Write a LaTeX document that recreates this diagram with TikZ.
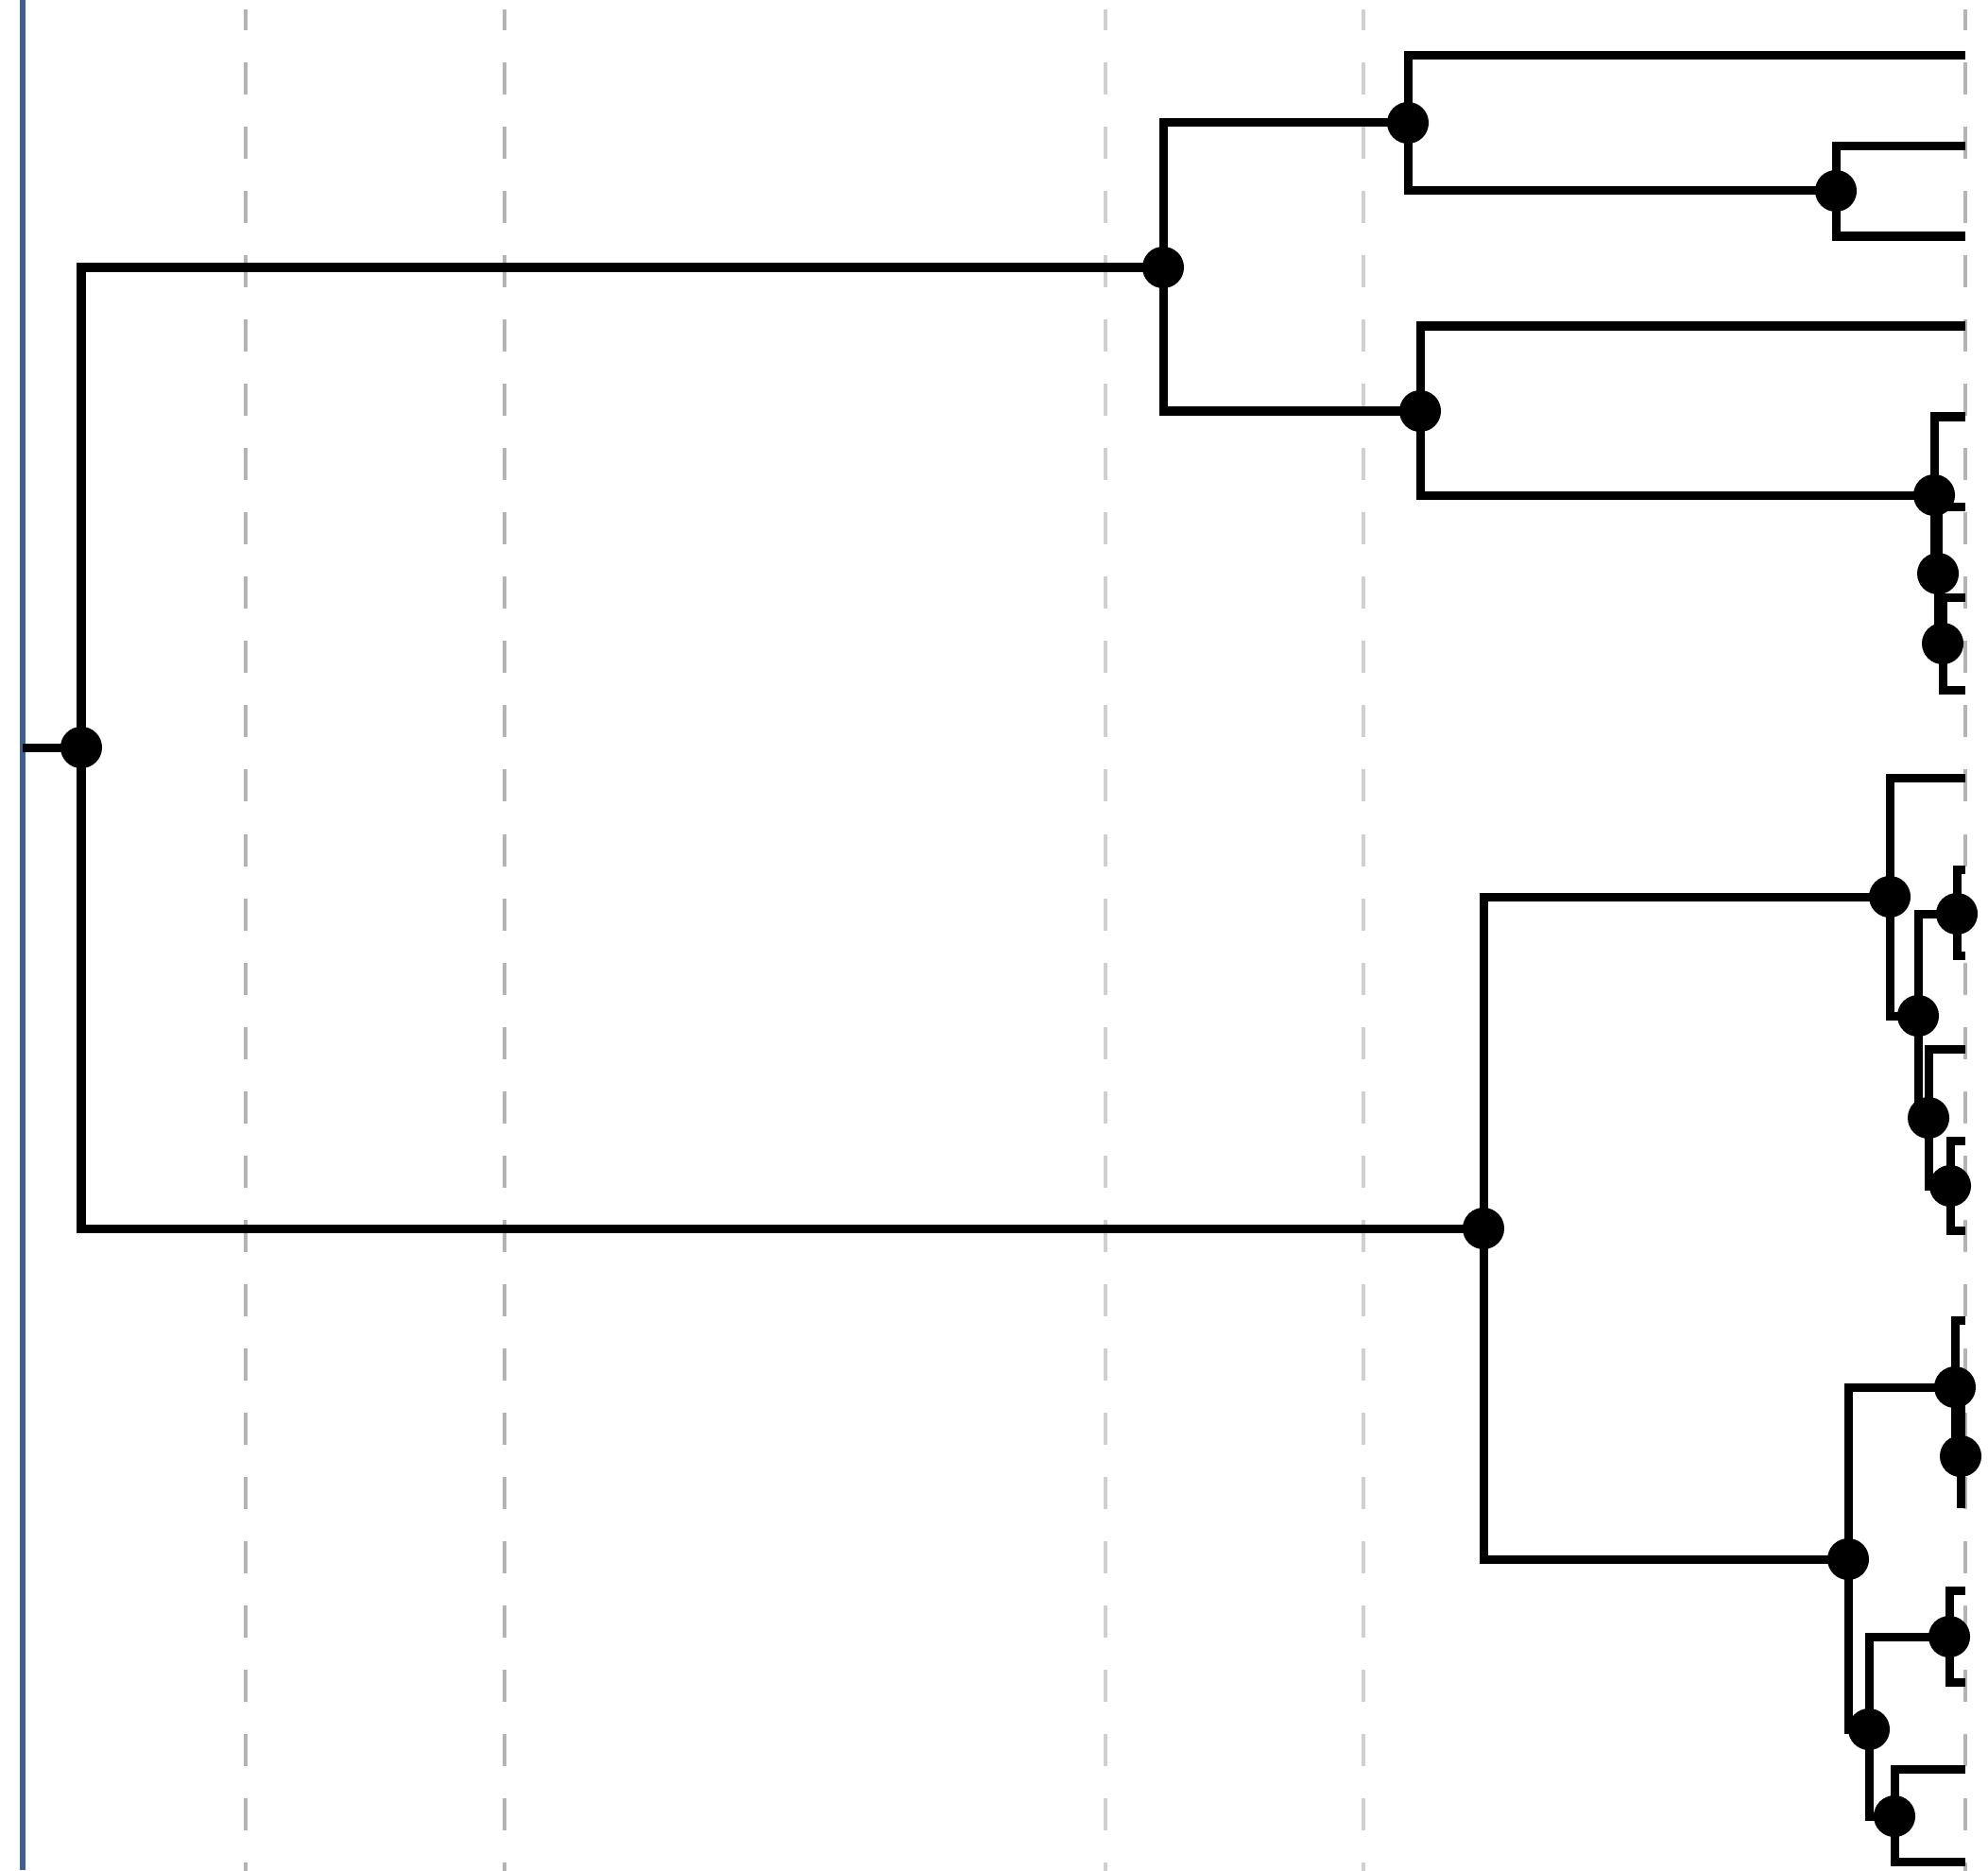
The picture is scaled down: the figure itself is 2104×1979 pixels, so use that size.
\documentclass[tikz,border=0pt]{standalone}
\usetikzlibrary{backgrounds}
\definecolor{axisblue}{HTML}{3D5F91}
\definecolor{gridA}{HTML}{B4B4B4}
\definecolor{gridB}{HTML}{D0D0D0}
\tikzset{
  dot/.style={circle, fill=black, inner sep=0pt, minimum size=0.44cm},
  branch/.style={line width=0.09cm, black},
  gridline/.style={line width=0.045cm, dash pattern=on 0.34cm off 0.34cm},
}
\begin{document}
\begin{tikzpicture}[x=0.01cm,y=-0.01cm]
\useasboundingbox (0,0) rectangle (2104,1979);
% internal nodes
\node[dot] (R) at (86,791) {};
\node[dot] (T) at (1231,283) {};
\node[dot] (A) at (1490,130) {};
\node[dot] (B) at (1943,202) {};
\node[dot] (C2) at (1503,435) {};
\node[dot] (C) at (2047,524) {};
\node[dot] (Cp) at (2051,607) {};
\node[dot] (Cpp) at (2056,681) {};
\node[dot] (M) at (1570,1300) {};
\node[dot] (D) at (2000,949) {};
\node[dot] (E) at (2030,1075) {};
\node[dot] (F) at (2071,967) {};
\node[dot] (G) at (2041,1183) {};
\node[dot] (H) at (2064,1255) {};
\node[dot] (I) at (1956,1650) {};
\node[dot] (J) at (2069,1468) {};
\node[dot] (K) at (2075,1541) {};
\node[dot] (L) at (1978,1830) {};
\node[dot] (N) at (2063,1732) {};
\node[dot] (P) at (2005,1922) {};
% leaves
\coordinate (s0) at (24,791);
\coordinate (a1) at (2080,59);
\coordinate (b1) at (2080,155);
\coordinate (b2) at (2080,250);
\coordinate (c1) at (2080,345);
\coordinate (c2) at (2080,441);
\coordinate (c3) at (2080,536);
\coordinate (c4) at (2080,632);
\coordinate (c5) at (2080,730);
\coordinate (d1) at (2080,823);
\coordinate (f1) at (2080,920);
\coordinate (f2) at (2080,1011);
\coordinate (g1) at (2080,1110);
\coordinate (h1) at (2080,1207);
\coordinate (h2) at (2080,1302);
\coordinate (j1) at (2080,1397);
\coordinate (k1) at (2080,1491);
\coordinate (k2) at (2080,1591);
\coordinate (n1) at (2080,1683);
\coordinate (n2) at (2080,1780);
\coordinate (p1) at (2080,1872);
\coordinate (p2) at (2080,1970);
\begin{scope}[on background layer]
  \begin{scope}
    \clip (0,11) rectangle (2104,1979);
    \foreach \gx/\gc in {260/gridA,534/gridA,1170/gridB,1443/gridB,2080/gridA}
      \draw[gridline,\gc] (\gx,-2) -- (\gx,1990);
  \end{scope}
  \draw[line width=0.05cm, axisblue] (24,0) -- (24,1979);
  \draw[branch] (s0) -- (R.center);
  \foreach \p/\c in {R/T,R/M,T/A,T/C2,A/a1,A/B,B/b1,B/b2,C2/c1,C2/C,C/c2,C/Cp,Cp/c3,Cp/Cpp,Cpp/c4,Cpp/c5,
      M/D,M/I,D/d1,D/E,E/F,E/G,F/f1,F/f2,G/g1,G/H,H/h1,H/h2,I/J,I/L,J/j1,J/K,K/k1,K/k2,L/N,L/P,N/n1,N/n2,P/p1,P/p2}
    \draw[branch] (\p.center) |- (\c.center);
\end{scope}
\end{tikzpicture}
\end{document}
